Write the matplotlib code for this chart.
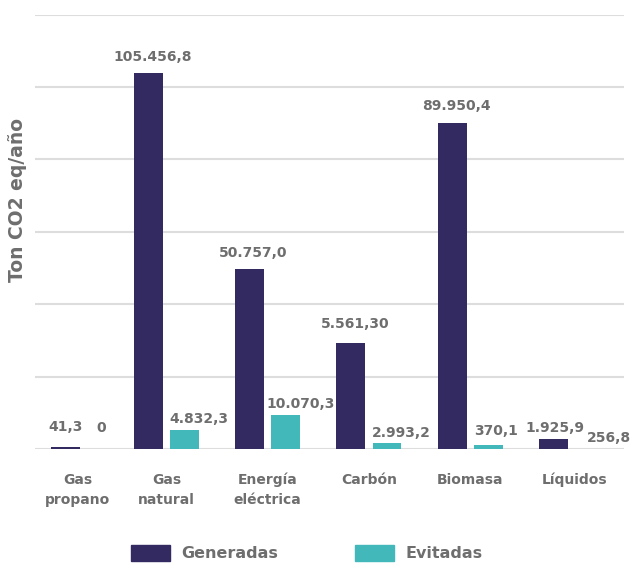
import numpy as np
import matplotlib
matplotlib.use("Agg")
import matplotlib.pyplot as plt
from matplotlib.patches import Patch

plt.rcParams['font.family'] = ['DejaVu Sans']

categories = ["Gas\npropano", "Gas\nnatural", "Energía\neléctrica", "Carbón", "Biomasa", "Líquidos"]
# bar heights as drawn in the picture (Ton CO2 eq/año)
generadas = [450, 103900, 49700, 29300, 90050, 2760]
evitadas = [0, 5250, 9400, 1660, 1100, 0]
# value labels as printed
gen_labels = ["41,3", "105.456,8", "50.757,0", "5.561,30", "89.950,4", "1.925,9"]
evit_labels = ["0", "4.832,3", "10.070,3", "2.993,2", "370,1", "256,8"]

c_gen = "#332a62"
c_evit = "#42b8bb"
c_text = "#6e6e6e"
c_grid = "#dddddd"

fig = plt.figure(figsize=(6.31, 5.64), dpi=100)
ax = fig.add_axes([35 / 631, 115 / 564, 589 / 631, 434.5 / 564])

x = np.arange(len(categories)).astype(float)
x[0] += 0.18  # first group sits a bit closer to the second one
w = 0.286
off = 0.178

ax.bar(x - off, generadas, w, color=c_gen, zorder=3)
ax.bar(x + off, evitadas, w, color=c_evit, zorder=3)

# label offsets in pixels (dx, dy) from the bar's centre/top
px = 72 / 100
gen_off = [(0.5, 16.5), (4, 12), (3, 12), (4.7, 15), (4, 13), (1.5, 7)]
evit_off = [(-0.5, 17), (14, 7), (15, 7), (14.5, 6), (7.5, 10.5), (19, 7)]
for i in range(len(categories)):
    dx, dy = gen_off[i]
    ax.annotate(gen_labels[i], (x[i] - off, generadas[i]), xytext=(dx * px, dy * px),
                textcoords="offset points", ha="center", va="baseline",
                fontsize=10, fontweight="bold", color=c_text, zorder=4)
    dx, dy = evit_off[i]
    ax.annotate(evit_labels[i], (x[i] + off, evitadas[i]), xytext=(dx * px, dy * px),
                textcoords="offset points", ha="center", va="baseline",
                fontsize=10, fontweight="bold", color=c_text, zorder=4)

ax.set_xlim(-0.299, 5.519)
ax.set_ylim(0, 120000)
ax.set_yticks(np.arange(0, 120001, 20000))
ax.yaxis.grid(True, color=c_grid, linewidth=1.5)
ax.set_axisbelow(True)
ax.tick_params(axis="both", length=0, labelleft=False)
ax.set_xticks([0.12, 1, 2, 3, 4, 5.03])
ax.set_xticklabels(categories, fontsize=10, fontweight="bold", color=c_text, linespacing=1.55)
ax.tick_params(axis="x", pad=17)
for s in ax.spines.values():
    s.set_visible(False)

fig.text(18 / 631, 1 - 200 / 564, "Ton CO2 eq/año", rotation=90, ha="center", va="center",
         fontsize=13.5, fontweight="bold", color=c_text)

handles = [Patch(color=c_gen, label="Generadas"), Patch(color=c_evit, label="Evitadas")]
fig.legend(handles=handles, loc="center", bbox_to_anchor=(306.5 / 631, 1 - 553 / 564),
           ncol=2, frameon=False, handlelength=2.45, handleheight=1.25,
           handletextpad=0.7, columnspacing=4.8, borderpad=0,
           prop={"weight": "bold", "size": 11.5}, labelcolor=c_text)

fig.savefig("out.png", dpi=100)
